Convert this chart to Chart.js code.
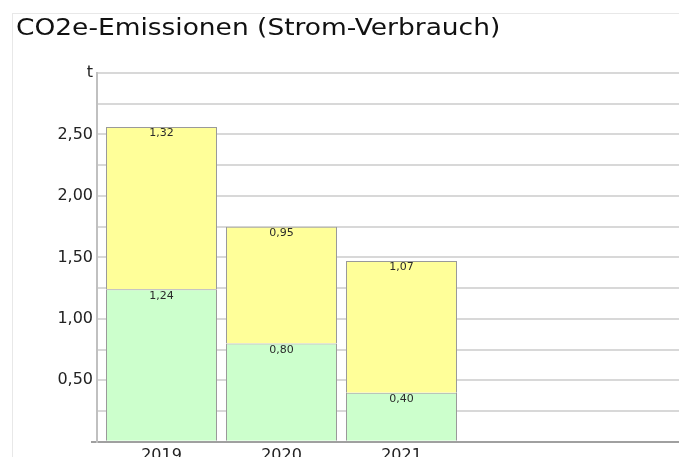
<!DOCTYPE html>
<html lang="de">
<head>
    <meta charset="UTF-8">
    <title>CO2e-Emissionen (Strom-Verbrauch)</title>
    <script src="https://cdn.jsdelivr.net/npm/chart.js"></script>
    <style>
        html, body {
            margin: 0;
            padding: 0;
            background: #fff;
            overflow: hidden;
            width: 679px;
            height: 457px;
        }
        #rahmen {
            position: absolute;
            left: 12px;
            top: 13px;
            width: 700px;
            height: 460px;
            border-top: 1px solid #e8e8e8;
            border-left: 1px solid #e8e8e8;
        }
        #titel {
            position: absolute;
            left: 16px;
            top: 14px;
            margin: 0;
            font-family: "DejaVu Sans", sans-serif;
            font-size: 23px;
            font-weight: normal;
            line-height: 27px;
            color: #111;
            white-space: nowrap;
            transform: scaleX(1.15);
            transform-origin: left top;
            z-index: 2;
        }
        #emissionChart {
            position: absolute;
            left: 0;
            top: 0;
        }
    </style>
</head>
<body>
    <div id="rahmen"></div>
    <h1 id="titel">CO2e-Emissionen (Strom-Verbrauch)</h1>
    <canvas id="emissionChart" width="700" height="469"></canvas>

    <script>
        // Daten (t CO2e)
        const jahre = ['2019', '2020', '2021'];
        const werteGruen = [1.24, 0.80, 0.40];
        const werteGelb = [1.32, 0.95, 1.07];
        const yTicks = [0.5, 1.0, 1.5, 2.0, 2.5];

        const fmt = v => v.toFixed(2).replace('.', ',');

        // Werte oben in jedem Balkensegment
        const balkenWerte = {
            id: 'balkenWerte',
            afterDatasetsDraw(chart) {
                const ctx = chart.ctx;
                ctx.save();
                ctx.font = '11px "DejaVu Sans"';
                ctx.fillStyle = '#2a2a2a';
                ctx.textAlign = 'center';
                ctx.textBaseline = 'top';
                chart.data.datasets.forEach((ds, i) => {
                    chart.getDatasetMeta(i).data.forEach((bar, j) => {
                        ctx.fillText(fmt(ds.data[j].y), bar.x, bar.y + 1);
                    });
                });
                ctx.restore();
            }
        };

        new Chart(document.getElementById('emissionChart'), {
            type: 'bar',
            data: {
                datasets: [
                    {
                        label: 'Strom grün',
                        data: werteGruen.map((v, i) => ({ x: i, y: v })),
                        backgroundColor: '#ccffcc',
                        borderColor: '#9a9a9a',
                        borderWidth: 1,
                        barPercentage: 0.925,
                        categoryPercentage: 1
                    },
                    {
                        label: 'Strom gelb',
                        data: werteGelb.map((v, i) => ({ x: i, y: v })),
                        backgroundColor: '#ffff99',
                        borderColor: '#9a9a9a',
                        borderWidth: 1,
                        barPercentage: 0.925,
                        categoryPercentage: 1
                    }
                ]
            },
            options: {
                responsive: false,
                animation: false,
                layout: { padding: { left: 16, top: 73, right: 0, bottom: 0 } },
                plugins: {
                    legend: { display: false },
                    tooltip: { enabled: false },
                    title: { display: false }
                },
                scales: {
                    x: {
                        type: 'linear',
                        stacked: true,
                        offset: false,
                        min: -0.5375,
                        max: 4.4875,
                        grid: { display: false, drawTicks: false },
                        border: { display: true, color: '#a0a0a0', width: 2 },
                        afterBuildTicks: s => { s.ticks = jahre.map((_, i) => ({ value: i })); },
                        ticks: {
                            autoSkip: false,
                            maxRotation: 0,
                            padding: 4,
                            color: '#222',
                            font: { family: '"DejaVu Sans"', size: 16 },
                            callback: v => jahre[v] ?? ''
                        }
                    },
                    y: {
                        stacked: true,
                        min: 0,
                        max: 3,
                        afterFit: s => { s.width = 81; },
                        grid: {
                            color: '#d8d8d8',
                            lineWidth: 2,
                            drawTicks: true,
                            tickLength: 6,
                            tickWidth: 2,
                            tickColor: c => (c.tick && c.tick.value === 0 ? '#a0a0a0' : 'rgba(0,0,0,0)')
                        },
                        border: { display: true, color: '#c0c0c0', width: 2 },
                        ticks: {
                            stepSize: 0.25,
                            padding: -2,
                            color: '#222',
                            font: { family: '"DejaVu Sans"', size: 16 },
                            callback: v => {
                                if (Math.abs(v - 3) < 1e-6) return 't';
                                const hit = yTicks.find(t => Math.abs(t - v) < 1e-6);
                                return hit !== undefined ? fmt(hit) : '';
                            }
                        }
                    }
                }
            },
            plugins: [balkenWerte]
        });
    </script>
</body>
</html>
